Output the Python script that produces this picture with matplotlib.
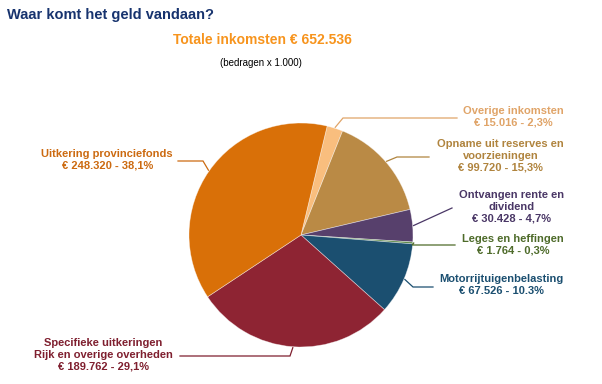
import numpy as np
import matplotlib
matplotlib.use("Agg")
import matplotlib.pyplot as plt

plt.rcParams['font.family'] = ['Liberation Sans', 'DejaVu Sans']

# data (bedragen x 1.000), clockwise from the top
names = ["Overige inkomsten", "Opname uit reserves en\nvoorzieningen",
         "Ontvangen rente en\ndividend", "Leges en heffingen",
         "Motorrijtuigenbelasting", "Specifieke uitkeringen\nRijk en overige overheden",
         "Uitkering provinciefonds"]
amounts = [15016, 99720, 30428, 1764, 67526, 189762, 248320]
amount_text = ["15.016", "99.720", "30.428", "1.764", "67.526", "189.762", "248.320"]
percent_text = ["2,3%", "15,3%", "4,7%", "0,3%", "10.3%", "29,1%", "38,1%"]
total_text = "652.536"

wedge_colors = ["#F9BE7E", "#BA8A45", "#57406C", "#5E8A4A", "#1B4F70", "#8E2433", "#D97008"]
label_colors = ["#E0A468", "#B0843E", "#4A3766", "#4E6B2A", "#1B4F70", "#7F1F2F", "#CC6A10"]

# label layout in pixels (top-left origin): text anchor, elbow, line end
text_pos = [(564, 117), (564, 156), (564, 207), (564, 245), (564, 285), (173, 355), (173, 160)]
elbows = [(343, 118), (397, 157), (452, 208), (412, 245), (413, 287), (290, 356), (203, 161)]
line_ends = [(457, 118), (429, 157), (452, 208), (455, 245), (433, 287), (180, 356), (178, 161)]

W, H = 602, 384
fig = plt.figure(figsize=(W / 100, H / 100), dpi=100)
ax = fig.add_axes([0, 0, 1, 1])

cx, cy, radius = 301, H - 235, 112
start = 90 - 13.5
wedges, _ = ax.pie(amounts, colors=wedge_colors, startangle=start, counterclock=False,
                   center=(cx, cy), radius=radius, frame=True,
                   wedgeprops=dict(edgecolor=(1, 1, 1, 0.5), linewidth=0.5))
ax.set_xlim(0, W)
ax.set_ylim(0, H)
ax.set_aspect('equal')
ax.axis('off')

for i, w in enumerate(wedges):
    mid = np.deg2rad((w.theta1 + w.theta2) / 2)
    x0 = cx + (radius + 1) * np.cos(mid)
    y0 = cy + (radius + 1) * np.sin(mid)
    ex, ey = elbows[i]
    lx, ly = line_ends[i]
    ax.plot([x0, ex, lx], [y0, H - ey, H - ly], color=label_colors[i], lw=0.9,
            solid_joinstyle='miter')
    tx, ty = text_pos[i]
    ax.text(tx, H - ty, f"{names[i]}\n€ {amount_text[i]} - {percent_text[i]}",
            ha='right', va='center', multialignment='center', fontsize=8,
            fontweight='bold', color=label_colors[i], linespacing=1.2)

fig.text(7 / W, 1 - 15 / H, "Waar komt het geld vandaan?", ha='left', va='center',
         fontsize=10.5, fontweight='bold', color='#17336E')
fig.text(262 / W, 1 - 40 / H, f"Totale inkomsten € {total_text}", ha='center', va='center',
         fontsize=10, fontweight='bold', color='#F7941D')
fig.text(261 / W, 1 - 63 / H, "(bedragen x 1.000)", ha='center', va='center',
         fontsize=7, color='black')

fig.savefig("out.png", dpi=100)
